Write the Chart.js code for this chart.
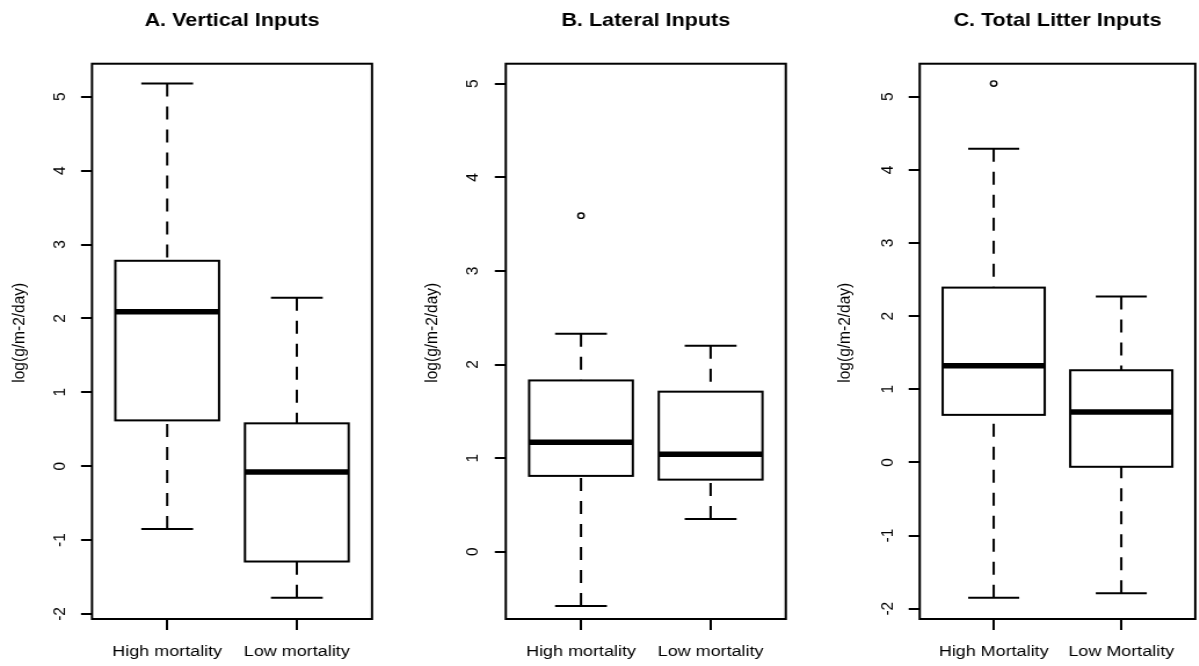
<!DOCTYPE html>
<html>
<head>
<meta charset="utf-8">
<script src="https://cdn.jsdelivr.net/npm/chart.js@4.4.0/dist/chart.umd.min.js"></script>
<style>
  html, body { margin: 0; padding: 0; background: #fff; width: 1199px; height: 666px; overflow: hidden; }
  /* the source picture is stretched sideways, so each panel is drawn narrow and scaled in x */
  .panel { position: absolute; top: 0; transform-origin: 0 0; transform: scaleX(1.15942); }
</style>
</head>
<body>
<div class="panel" style="left:0px"><canvas id="chartA" width="345" height="666"></canvas></div>
<div class="panel" style="left:400px"><canvas id="chartB" width="345" height="666"></canvas></div>
<div class="panel" style="left:800px"><canvas id="chartC" width="345" height="666"></canvas></div>
<script>
// five-number summaries: [lower whisker, Q1, median, Q3, upper whisker]
const verticalHigh = [-0.85, 0.62, 2.09, 2.78, 5.18];
const verticalLow  = [-1.78, -1.29, -0.08, 0.58, 2.28];
const lateralHigh  = [-0.58, 0.81, 1.17, 1.83, 2.33];
const lateralLow   = [0.35, 0.77, 1.04, 1.71, 2.20];
const totalHigh    = [-1.85, 0.65, 1.32, 2.39, 4.29];
const totalLow     = [-1.79, -0.06, 0.69, 1.26, 2.27];

// outliers, by group
const verticalOutliers = [[], []];
const lateralOutliers  = [[3.59], []];
const totalOutliers    = [[5.18], []];

const groupsAB = ['High mortality', 'Low mortality'];
const groupsC  = ['High Mortality', 'Low Mortality'];

const yTicksA = [-2, -1, 0, 1, 2, 3, 4, 5];
const yTicksB = [0, 1, 2, 3, 4, 5];
const yTicksC = [-2, -1, 0, 1, 2, 3, 4, 5];

const yRangeA = [-2.068, 5.447];
const yRangeB = [-0.719, 5.214];
const yRangeC = [-2.141, 5.451];

// the original label sits a little above the middle, as if it had leading blanks
const yLabel = '    log(g/m-2/day)';

Chart.defaults.font.family = "'Liberation Sans', Arial, Helvetica, sans-serif";
Chart.defaults.color = '#000';
Chart.defaults.animation = false;

// R style boxes: dashed whiskers, staples, box, thick median, frame
function boxPlugin(stats) {
    return {
        id: 'boxes',
        beforeDatasetsDraw(chart) {
            const {ctx, chartArea} = chart;
            const x = chart.scales.x, y = chart.scales.y;
            ctx.save();
            ctx.strokeStyle = '#000';
            ctx.lineCap = 'butt';
            const line = (x1, y1, x2, y2) => {
                ctx.beginPath();
                ctx.moveTo(x1, y1);
                ctx.lineTo(x2, y2);
                ctx.stroke();
            };
            stats.forEach((s, i) => {
                const c = i + 1;
                const xl = x.getPixelForValue(c - 0.4);
                const xr = x.getPixelForValue(c + 0.4);
                const xc = x.getPixelForValue(c);
                const sl = x.getPixelForValue(c - 0.2);
                const sr = x.getPixelForValue(c + 0.2);
                const [lo, q1, med, q3, hi] = s.map(v => y.getPixelForValue(v));

                ctx.lineWidth = 2;
                ctx.setLineDash([13, 10]);
                line(xc, lo, xc, q1);
                line(xc, hi, xc, q3);
                ctx.setLineDash([]);
                line(sl, lo, sr, lo);
                line(sl, hi, sr, hi);
                ctx.strokeRect(xl, q3, xr - xl, q1 - q3);

                ctx.lineWidth = 5.5;
                line(xl, med, xr, med);
            });
            ctx.lineWidth = 2;
            ctx.strokeRect(chartArea.left, chartArea.top,
                chartArea.right - chartArea.left, chartArea.bottom - chartArea.top);
            ctx.restore();
        }
    };
}

function makePanel(id, p) {
    const outlierPoints = [];
    p.outliers.forEach((list, i) => list.forEach(v => outlierPoints.push({x: i + 1, y: v})));

    return new Chart(document.getElementById(id), {
        type: 'scatter',
        data: {
            datasets: [{
                data: outlierPoints,
                pointStyle: 'circle',
                pointRadius: 2.7,
                pointHoverRadius: 2.7,
                borderColor: '#000',
                borderWidth: 1.4,
                backgroundColor: 'rgba(0,0,0,0)'
            }]
        },
        options: {
            responsive: false,
            events: [],
            layout: { padding: { left: 0, right: p.padRight, top: 0, bottom: 0 } },
            plugins: {
                legend: { display: false },
                tooltip: { enabled: false },
                title: {
                    display: true,
                    text: p.title,
                    fullSize: false,
                    color: '#000',
                    font: { size: 18.6, weight: 'bold' },
                    padding: { top: 9.5, bottom: 31.9 }
                }
            },
            scales: {
                x: {
                    type: 'linear',
                    position: 'bottom',
                    min: 0.42,
                    max: 2.58,
                    afterBuildTicks: s => { s.ticks = [{value: 1}, {value: 2}]; },
                    afterFit: s => { s.height = 47; },
                    border: { display: false },
                    grid: { display: true, drawOnChartArea: false, drawTicks: true, tickLength: 11, color: '#000', lineWidth: 2 },
                    ticks: {
                        callback: v => p.groups[v - 1],
                        padding: 12.7,
                        font: { size: 15.5 },
                        color: '#000',
                        minRotation: 0,
                        maxRotation: 0,
                        autoSkip: false
                    }
                },
                y: {
                    type: 'linear',
                    position: 'left',
                    min: p.yRange[0],
                    max: p.yRange[1],
                    afterBuildTicks: s => { s.ticks = p.yTicks.map(v => ({value: v})); },
                    afterFit: s => { s.width = p.axisWidth; },
                    border: { display: false },
                    grid: { display: true, drawOnChartArea: false, drawTicks: true, tickLength: 9.5, color: '#000', lineWidth: 2 },
                    ticks: {
                        minRotation: 90,
                        maxRotation: 90,
                        crossAlign: 'center',
                        padding: p.tickPad,
                        font: { size: 15.5 },
                        color: '#000',
                        autoSkip: false
                    },
                    title: {
                        display: true,
                        text: yLabel,
                        color: '#000',
                        font: { size: 15.5 },
                        padding: { top: p.titlePad, bottom: 0 }
                    }
                }
            }
        },
        plugins: [boxPlugin(p.stats)]
    });
}

makePanel('chartA', {
    title: 'A. Vertical Inputs',
    groups: groupsAB,
    stats: [verticalHigh, verticalLow],
    outliers: verticalOutliers,
    yTicks: yTicksA,
    yRange: yRangeA,
    axisWidth: 79.35,
    padRight: 24.15,
    tickPad: 11.2,
    titlePad: 7.5
});

makePanel('chartB', {
    title: 'B. Lateral Inputs',
    groups: groupsAB,
    stats: [lateralHigh, lateralLow],
    outliers: lateralOutliers,
    yTicks: yTicksB,
    yRange: yRangeB,
    axisWidth: 91.25,
    padRight: 12.24,
    tickPad: 14.4,
    titlePad: 18.6
});

makePanel('chartC', {
    title: 'C. Total Litter Inputs',
    groups: groupsC,
    stats: [totalHigh, totalLow],
    outliers: totalOutliers,
    yTicks: yTicksC,
    yRange: yRangeC,
    axisWidth: 103.24,
    padRight: 0.26,
    tickPad: 11.4,
    titlePad: 29.5
});
</script>
</body>
</html>
